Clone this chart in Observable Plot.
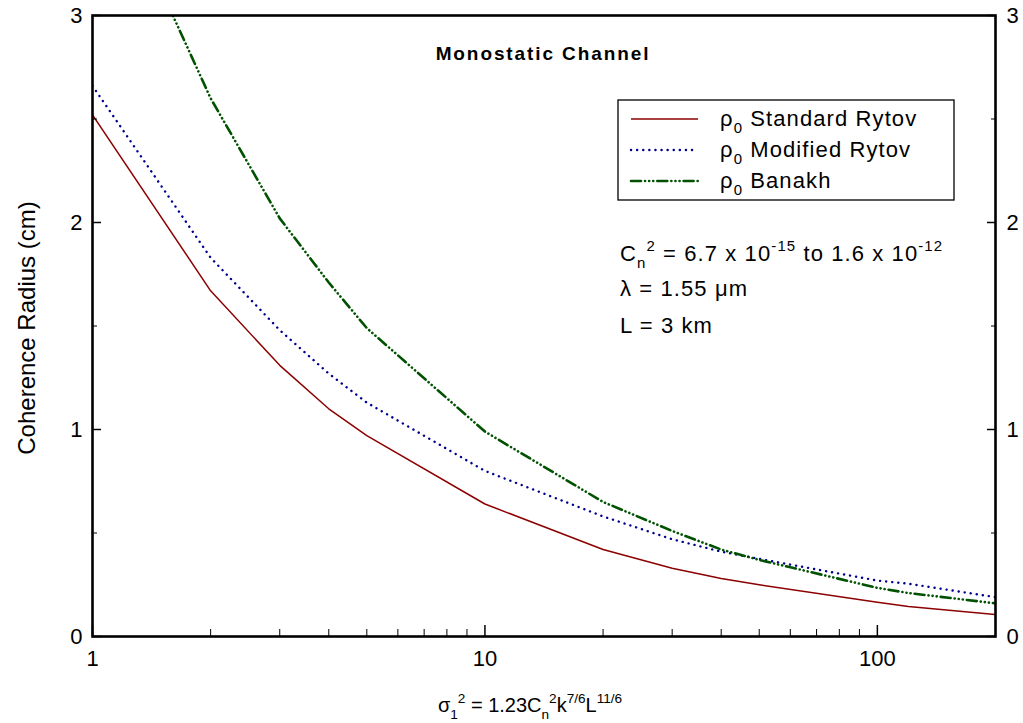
<!DOCTYPE html>
<html><head><meta charset="utf-8">
<script src="https://cdn.jsdelivr.net/npm/d3@7"></script>
<script src="https://cdn.jsdelivr.net/npm/@observablehq/plot@0.6"></script>
<style>
body{margin:0;background:#fff}
svg{font-family:"Liberation Sans",Arial,sans-serif}
</style>
</head><body><div id="chart"></div>
<script>
// sigma_1^2 (Rytov variance) sample points
const sigma2 = [1, 2, 3, 4, 5, 10, 20, 30, 40, 50, 100, 120, 200];
// coherence radius (cm)
const standardRytov = [2.52, 1.67, 1.31, 1.10, 0.97, 0.64, 0.42, 0.33, 0.28, 0.25, 0.165, 0.145, 0.106];
const modifiedRytov = [2.66, 1.83, 1.48, 1.27, 1.13, 0.80, 0.58, 0.47, 0.41, 0.375, 0.27, 0.255, 0.19];
const banakh        = [3.85, 2.60, 2.02, 1.71, 1.49, 0.99, 0.65, 0.51, 0.42, 0.37, 0.235, 0.21, 0.16];

const seriesNames = ["Standard Rytov", "Modified Rytov", "Banakh"];
const xMajor = [1, 10, 100];
const xMinor = [2, 3, 4, 5, 6, 7, 8, 9, 20, 30, 40, 50, 60, 70, 80, 90];
const yMajor = [0, 1, 2, 3];
const yMinor = [0.5, 1.5, 2.5];

const colors = {"Standard Rytov": "#8c0000", "Modified Rytov": "#000090", "Banakh": "#005200"};
const dashes = {"Standard Rytov": null, "Modified Rytov": "0.1,6", "Banakh": "10,4,0.1,4,0.1,4,0.1,4"};
const widths = {"Standard Rytov": 1.5, "Modified Rytov": 2.4, "Banakh": 2.6};
const caps = {"Standard Rytov": "butt", "Modified Rytov": "round", "Banakh": "round"};

const valuesBySeries = [standardRytov, modifiedRytov, banakh];
const rows = [];
seriesNames.forEach((s, i) => sigma2.forEach((x, j) => rows.push({series: s, x, y: valuesBySeries[i][j]})));

const lineMarks = seriesNames.map(s => Plot.line(rows.filter(r => r.series === s), {
  x: "x", y: "y", stroke: colors[s], strokeWidth: widths[s],
  strokeDasharray: dashes[s], strokeLinecap: caps[s], clip: true
}));

const plot = Plot.plot({
  width: 1023, height: 723,
  marginLeft: 92, marginRight: 28, marginTop: 15, marginBottom: 87,
  x: {type: "log", domain: [1, 200]},
  y: {domain: [0, 3]},
  style: {fontFamily: '"Liberation Sans", Arial, sans-serif', fontSize: "22px", color: "#000", background: "#fff"},
  marks: [
    ...lineMarks,
    // x ticks (inward)
    Plot.axisX(xMajor, {tickSize: -11, tickFormat: () => "", label: null, strokeWidth: 1.5}),
    Plot.axisX(xMinor, {tickSize: -7, tickFormat: () => "", label: null, strokeWidth: 1}),
    Plot.axisX(xMajor, {tickSize: 0, tickPadding: 14, tickFormat: d => String(d), label: null, fontSize: 22, ariaLabel: "x-labels"}),
    // left y
    Plot.axisY(yMajor, {tickSize: -9, tickFormat: () => "", label: null, strokeWidth: 1.5}),
    Plot.axisY(yMinor, {tickSize: -5, tickFormat: () => "", label: null}),
    Plot.axisY(yMajor, {tickSize: 0, tickPadding: 10, tickFormat: d => String(d), label: null, fontSize: 22}),
    // right y
    Plot.axisY(yMajor, {anchor: "right", tickSize: -9, tickFormat: () => "", label: null, strokeWidth: 1.5}),
    Plot.axisY(yMinor, {anchor: "right", tickSize: -5, tickFormat: () => "", label: null}),
    Plot.axisY(yMajor, {anchor: "right", tickSize: 0, tickPadding: 11, tickFormat: d => String(d), label: null, fontSize: 22}),
    Plot.frame({stroke: "#000", strokeWidth: 2.6})
  ]
});
document.getElementById("chart").appendChild(plot);

const svg = d3.select(plot);
// enlarge tick label text
svg.selectAll('g[aria-label$="tick label"]').attr("font-size", 22).style("font-size", "22px");
svg.selectAll('g[aria-label$="tick label"] text').style("font-size", "22px");

function rich(x, y, parts, opts = {}) {
  const fs = opts.fontSize || 18;
  const t = svg.append("text").attr("x", x).attr("y", y)
    .attr("font-size", fs).attr("fill", "#000")
    .attr("text-anchor", opts.anchor || "start")
    .attr("font-weight", opts.weight || "normal");
  if (opts.letterSpacing) t.attr("letter-spacing", opts.letterSpacing);
  if (opts.transform) t.attr("transform", opts.transform);
  let cur = 0;
  for (const [str, kind] of parts) {
    const target = kind === "sub" ? 0.33 * fs : kind === "sup" ? -0.45 * fs : 0;
    const ts = t.append("tspan").text(str).attr("dy", target - cur);
    if (kind) ts.attr("font-size", fs * 0.68);
    cur = target;
  }
  return t;
}

// Title
rich(543, 60, [["Monostatic Channel"]], {fontSize: 19, anchor: "middle", weight: "bold", letterSpacing: 1.9});

// Axis labels
rich(0, 0, [["Coherence Radius (cm)"]], {fontSize: 24, anchor: "middle", transform: "translate(35,328) rotate(-90)"});
rich(530, 712, [["σ"], ["1", "sub"], ["2", "sup"], [" = 1.23C"], ["n", "sub"], ["2", "sup"], ["k"], ["7/6", "sup"], ["L"], ["11/6", "sup"]], {fontSize: 20, anchor: "middle"});

// Legend
svg.append("rect").attr("x", 618).attr("y", 100).attr("width", 336).attr("height", 100)
  .attr("fill", "#fff").attr("stroke", "#000").attr("stroke-width", 1.3);
seriesNames.forEach((s, i) => {
  const ly = 119 + i * 31;
  svg.append("line").attr("x1", 631).attr("x2", 698).attr("y1", ly).attr("y2", ly)
    .attr("stroke", colors[s]).attr("stroke-width", widths[s])
    .attr("stroke-dasharray", dashes[s]).attr("stroke-linecap", caps[s]);
  rich(720, ly + 6.5, [["ρ"], ["0", "sub"], [" " + s]], {fontSize: 22, letterSpacing: 1.1});
});

// Annotations
rich(620, 261, [["C"], ["n", "sub"], ["2", "sup"], [" = 6.7 x 10"], ["-15", "sup"], [" to 1.6 x 10"], ["-12", "sup"]], {fontSize: 22, letterSpacing: 1.1});
rich(620, 296, [["λ = 1.55 μm"]], {fontSize: 22, letterSpacing: 1.1});
rich(620, 333, [["L = 3 km"]], {fontSize: 22, letterSpacing: 1.1});
</script>
</body></html>
